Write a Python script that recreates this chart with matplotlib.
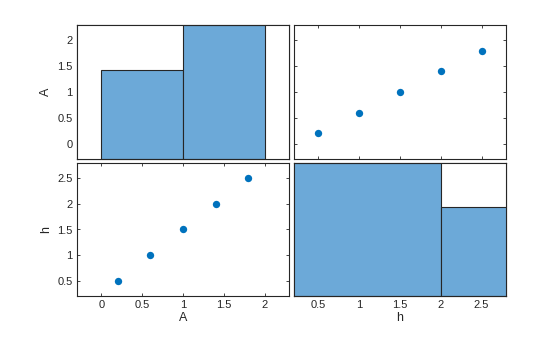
import numpy as np
import matplotlib.pyplot as plt

names = ['A', 'h']
A = [0.2, 0.6, 1.0, 1.4, 1.8]
h = [0.5, 1.0, 1.5, 2.0, 2.5]
data = [A, h]
hist_edges = [[0, 1, 2], [0, 2, 4]]
limits = [(-0.3, 2.3), (0.2, 2.8)]
ticks = [[0, 0.5, 1, 1.5, 2], [0.5, 1, 1.5, 2, 2.5]]
ticklabels = [['0', '0.5', '1', '1.5', '2'], ['0.5', '1', '1.5', '2', '2.5']]

plt.rcParams['font.family'] = ['Liberation Sans', 'DejaVu Sans']
plt.rcParams['font.size'] = 8

dot_color = '#0072BD'
bar_color = '#6CA9D8'
ink = '#262626'

fig = plt.figure(figsize=(5.6, 3.37), dpi=100)

col_x = [77 / 560, 294 / 560]
col_w = 212 / 560
row_y = [1 - 159 / 337, 1 - 296 / 337]
row_h = [134 / 337, 133 / 337]

for r in range(2):
    for c in range(2):
        pos = [col_x[c], row_y[r], col_w, row_h[r]]
        ax = fig.add_axes(pos)
        ax.set_xlim(limits[c])
        ax.set_ylim(limits[r])
        ax.set_xticks(ticks[c])
        ax.set_yticks(ticks[r])
        ax.tick_params(direction='in', length=2.5, width=0.6, colors=ink,
                       top=True, right=True, labelsize=8, pad=3)
        for s in ax.spines.values():
            s.set_color(ink)
            s.set_linewidth(0.8)
        if r == 1:
            ax.set_xticklabels(ticklabels[c])
            ax.set_xlabel(names[c], color=ink, fontsize=9, labelpad=1)
        else:
            ax.set_xticklabels([])
        if c == 0:
            ax.set_yticklabels(ticklabels[r])
            ax.set_ylabel(names[r], color=ink, fontsize=9, labelpad=4)
        else:
            ax.set_yticklabels([])

        if r != c:
            ax.scatter(data[c], data[r], s=28, color=dot_color, zorder=3,
                       linewidths=0)
        else:
            hax = fig.add_axes(pos)
            counts, edges = np.histogram(data[r], bins=hist_edges[r])
            hax.bar(edges[:-1], counts, width=np.diff(edges), align='edge',
                    color=bar_color, edgecolor=ink, linewidth=0.8)
            hax.set_xlim(limits[c])
            hax.set_ylim(0, counts.max())
            hax.set_xticks([])
            hax.set_yticks([])
            for s in hax.spines.values():
                s.set_color(ink)
                s.set_linewidth(0.8)

fig.savefig('out.png', dpi=100)
